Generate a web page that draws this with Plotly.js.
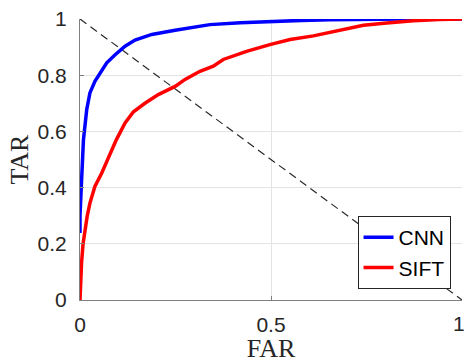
<!DOCTYPE html>
<html>
<head>
<meta charset="utf-8">
<script src="https://cdn.plot.ly/plotly-3.0.1.min.js"></script>
<style>html,body{margin:0;padding:0;background:#fff;}#chart{width:464px;height:363px;}</style>
</head>
<body>
<div id="chart"></div>
<script>
const cnnFAR = [0, 0, 0.003, 0.006, 0.009, 0.0175, 0.026, 0.039, 0.052, 0.07, 0.092, 0.118, 0.144, 0.188, 0.249, 0.30, 0.34, 0.42, 0.497, 0.58, 0.654, 0.75, 0.85, 1.0];
const cnnTAR = [0.238, 0.30, 0.392, 0.50, 0.57, 0.677, 0.737, 0.778, 0.808, 0.844, 0.873, 0.903, 0.925, 0.945, 0.96, 0.972, 0.98, 0.987, 0.992, 0.995, 0.997, 0.999, 1.0, 1.0];
const siftFAR = [0, 0.002, 0.004, 0.008, 0.013, 0.019, 0.026, 0.039, 0.057, 0.079, 0.095, 0.118, 0.14, 0.17, 0.205, 0.249, 0.275, 0.314, 0.349, 0.375, 0.436, 0.497, 0.55, 0.611, 0.65, 0.70, 0.742, 0.803, 0.873, 0.94, 1.0];
const siftTAR = [0.0, 0.07, 0.131, 0.20, 0.25, 0.30, 0.345, 0.404, 0.452, 0.52, 0.57, 0.63, 0.67, 0.70, 0.731, 0.76, 0.785, 0.814, 0.832, 0.856, 0.885, 0.909, 0.927, 0.94, 0.952, 0.965, 0.978, 0.986, 0.994, 0.998, 1.0];
const diagX = [0, 1];
const diagY = [1, 0];
const seriesNames = ['CNN', 'SIFT'];
const xTicks = [0, 0.5, 1];
const xTickText = ['0', '0.5', '1'];
const yTicks = [0, 0.2, 0.4, 0.6, 0.8, 1];
const yTickText = ['0', '0.2', '0.4', '0.6', '0.8', '1'];

const data = [
  {x: diagX, y: diagY, mode: 'lines', showlegend: false, hoverinfo: 'skip',
   line: {color: '#2a2a2a', width: 1.2, dash: '8px,5px'}},
  {x: cnnFAR, y: cnnTAR, mode: 'lines', name: seriesNames[0],
   line: {color: '#0000ff', width: 3.5}},
  {x: siftFAR, y: siftTAR, mode: 'lines', name: seriesNames[1],
   line: {color: '#ff0000', width: 3.5}}
];

const tickFont = {family: 'Liberation Sans, Arial, sans-serif', size: 21, color: '#262626'};
const titleFont = {family: 'Liberation Serif, Times New Roman, serif', size: 26, color: '#262626'};

// the last x tick label sits at the page edge; draw it as an annotation anchored at the tick so it is not cut off
const lastIdx = xTicks.length - 1;
const shownXTickText = xTickText.map((t, i) => i === lastIdx ? '' : t);

const layout = {
  width: 464, height: 363,
  margin: {l: 80, r: 2, t: 19, b: 63},
  paper_bgcolor: '#ffffff', plot_bgcolor: '#ffffff',
  showlegend: true,
  xaxis: {
    range: [0, 1], tickvals: xTicks, ticktext: shownXTickText,
    ticks: 'inside', ticklen: 4, tickcolor: '#808080',
    showline: true, linecolor: '#808080', linewidth: 1, mirror: false,
    showgrid: true, gridcolor: '#e3e3e3', gridwidth: 1, zeroline: false,
    tickfont: tickFont, ticklabelstandoff: 6,
    title: {text: 'FAR', font: titleFont, standoff: 3}
  },
  yaxis: {
    range: [0, 1], tickvals: yTicks, ticktext: yTickText,
    ticks: 'inside', ticklen: 4, tickcolor: '#808080',
    showline: true, linecolor: '#808080', linewidth: 1, mirror: false,
    showgrid: true, gridcolor: '#e3e3e3', gridwidth: 1, zeroline: false,
    tickfont: tickFont, ticklabelstandoff: 8,
    title: {text: 'TAR', font: titleFont, standoff: 1}
  },
  annotations: [{
    x: xTicks[lastIdx], xref: 'x', y: 0, yref: 'paper',
    text: xTickText[lastIdx], showarrow: false,
    xanchor: 'right', yanchor: 'top', xshift: 5, yshift: -10,
    font: tickFont
  }],
  legend: {
    x: 0.97, y: 0.039, xanchor: 'right', yanchor: 'bottom',
    bgcolor: '#ffffff', bordercolor: '#262626', borderwidth: 1,
    font: {family: 'Liberation Sans, Arial, sans-serif', size: 21, color: '#000000'},
    itemwidth: 30, tracegroupgap: 0
  }
};

Plotly.newPlot('chart', data, layout, {displayModeBar: false, staticPlot: true});
</script>
</body>
</html>
